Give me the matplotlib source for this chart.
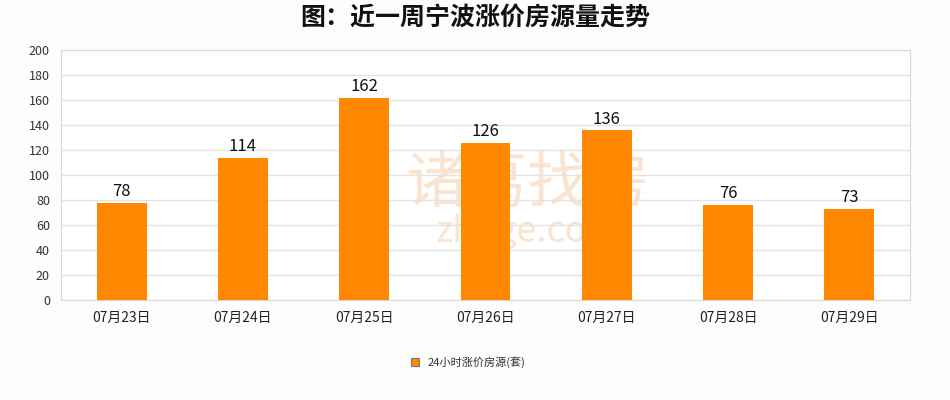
import matplotlib.pyplot as plt
from matplotlib.patches import Rectangle

plt.rcParams['font.family'] = ['Noto Sans CJK SC', 'DejaVu Sans']

dates = ["07月23日", "07月24日", "07月25日", "07月26日", "07月27日", "07月28日", "07月29日"]
counts = [78, 114, 162, 126, 136, 76, 73]
series_name = "24小时涨价房源(套)"

fig = plt.figure(figsize=(9.5, 4), dpi=100, facecolor='#fdfdfd')
ax = fig.add_axes([61 / 950, 100 / 400, 849 / 950, 250 / 400])
ax.set_facecolor('white')

x = range(len(dates))
bars = ax.bar(x, counts, width=0.41, color='#ff8800', zorder=3)
for b, v in zip(bars, counts):
    ax.text(b.get_x() + b.get_width() / 2, v + 2, str(v), ha='center', va='bottom',
            fontsize=12, color='#111111', zorder=4)

ax.set_xlim(-0.5, len(dates) - 0.5)
ax.set_ylim(0, 200)
ax.set_yticks(range(0, 201, 20))
ax.set_xticks(list(x))
ax.set_xticklabels(dates, fontsize=10, color='#222222')
ax.tick_params(axis='y', labelsize=9, colors='#333333', length=0, pad=8)
ax.tick_params(axis='x', length=0, pad=8)
ax.grid(axis='y', color='#e3e3e3', linewidth=1, zorder=0)
for s in ax.spines.values():
    s.set_color('#d8d8d8')

# faint watermark behind the bars
ax.text(0.55, 0.46, "诸葛找房", transform=ax.transAxes, fontsize=44, color='#fae3cf',
        ha='center', va='center', zorder=1)
ax.text(0.55, 0.27, "zhuge.com", transform=ax.transAxes, fontsize=26, color='#fae3cf',
        ha='center', va='center', zorder=1)

fig.suptitle("图：近一周宁波涨价房源量走势", y=0.985, va='top', fontsize=18,
             fontweight='bold', color='#111111')

fig.patches.append(Rectangle((411 / 950, 1 - 366 / 400), 8 / 950, 8 / 400,
                             transform=fig.transFigure, facecolor='#ff8800',
                             edgecolor='#777777', linewidth=0.8))
fig.text(428 / 950, 1 - 362 / 400, series_name, fontsize=8, color='#333333',
         ha='left', va='center')

fig.savefig("out.png", dpi=100, facecolor=fig.get_facecolor())
